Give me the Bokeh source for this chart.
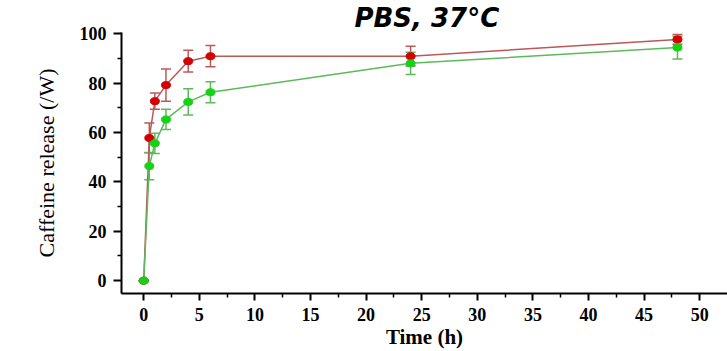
from bokeh.plotting import figure
from bokeh.models import ColumnDataSource, Whisker, TeeHead, Range1d, FixedTicker
from bokeh.embed import file_html
from bokeh.resources import INLINE

# Data
time_h = [0, 0.5, 1, 2, 4, 6, 24, 48]
red_release = [0, 57.8, 72.7, 79.2, 88.9, 90.9, 90.9, 97.7]
red_err = [0, 6.0, 3.3, 6.5, 4.4, 4.3, 4.0, 2.0]
green_release = [0, 46.4, 55.6, 65.3, 72.4, 76.3, 88.0, 94.4]
green_err = [0, 5.5, 4.1, 4.1, 5.3, 4.3, 4.5, 4.6]
x_ticks = [0, 5, 10, 15, 20, 25, 30, 35, 40, 45, 50]
y_ticks = [0, 20, 40, 60, 80, 100]

RED_LINE = "#b85a55"
RED_PT = "#d40000"
GREEN_LINE = "#5cba5c"
GREEN_PT = "#14d214"

p = figure(width=727, height=351, output_backend="svg", toolbar_location=None,
           x_range=Range1d(-2.0, 52.5), y_range=Range1d(-5.2, 100.5),
           min_border_left=121, min_border_right=0, min_border_top=32, min_border_bottom=54)
p.outline_line_color = None
p.xgrid.grid_line_color = None
p.ygrid.grid_line_color = None
p.background_fill_color = "white"
p.border_fill_color = "white"

p.title.text = "PBS, 37°C"
p.title.align = "left"
p.title.offset = 354 - 121
p.title.standoff = 0
p.title.text_font = "DejaVu Sans"
p.title.text_font_style = "bold italic"
p.title.text_font_size = "26px"
p.title.text_color = "black"

def lo_hi(v, e):
    return [a - b for a, b in zip(v, e)], [a + b for a, b in zip(v, e)]

rl, rh = lo_hi(red_release, red_err)
gl, gh = lo_hi(green_release, green_err)
rsrc = ColumnDataSource(dict(x=time_h, y=red_release, lo=rl, hi=rh))
gsrc = ColumnDataSource(dict(x=time_h, y=green_release, lo=gl, hi=gh))

for src, lc in ((rsrc, RED_LINE), (gsrc, GREEN_LINE)):
    w = Whisker(source=src, base="x", lower="lo", upper="hi", line_color=lc, line_width=1.5,
                upper_head=TeeHead(size=10, line_color=lc, line_width=1.5),
                lower_head=TeeHead(size=10, line_color=lc, line_width=1.5))
    p.add_layout(w)

p.line("x", "y", source=rsrc, line_color=RED_LINE, line_width=1.5)
p.line("x", "y", source=gsrc, line_color=GREEN_LINE, line_width=1.5)
p.ellipse("x", "y", source=rsrc, width=9, height=7, width_units="screen", height_units="screen",
          fill_color=RED_PT, line_color=RED_PT)
p.ellipse("x", "y", source=gsrc, width=9, height=7, width_units="screen", height_units="screen",
          fill_color=GREEN_PT, line_color=GREEN_PT)

for ax in (p.xaxis[0], p.yaxis[0]):
    ax.axis_line_color = "black"
    ax.axis_line_width = 2
    ax.major_tick_line_width = 2
    ax.minor_tick_line_width = 1.5
    ax.major_tick_in = 0
    ax.minor_tick_in = 0
    ax.major_label_text_font = "Liberation Serif"
    ax.major_label_text_font_style = "bold"
    ax.major_label_text_font_size = "18px"
    ax.major_label_text_color = "black"
    ax.axis_label_text_color = "black"

p.xaxis.ticker = FixedTicker(ticks=x_ticks, minor_ticks=[x + 2.5 for x in x_ticks[:-1]])
p.yaxis.ticker = FixedTicker(ticks=y_ticks, minor_ticks=[y + 10 for y in y_ticks[:-1]])
p.xaxis.major_tick_out = 7
p.xaxis.minor_tick_out = 4
p.yaxis.major_tick_out = 8
p.yaxis.minor_tick_out = 4
p.xaxis.major_label_standoff = 7
p.yaxis.major_label_standoff = 7

p.xaxis.axis_label = "Time (h)"
p.xaxis.axis_label_text_font = "Liberation Serif"
p.xaxis.axis_label_text_font_style = "bold"
p.xaxis.axis_label_text_font_size = "21px"
p.xaxis.axis_label_standoff = 1

p.yaxis.axis_label = "Caffeine release (/W)"
p.yaxis.axis_label_text_font = "Liberation Serif"
p.yaxis.axis_label_text_font_style = "normal"
p.yaxis.axis_label_text_font_size = "22px"
p.yaxis.axis_label_standoff = 18

open("out.html", "w").write(file_html(p, INLINE))
